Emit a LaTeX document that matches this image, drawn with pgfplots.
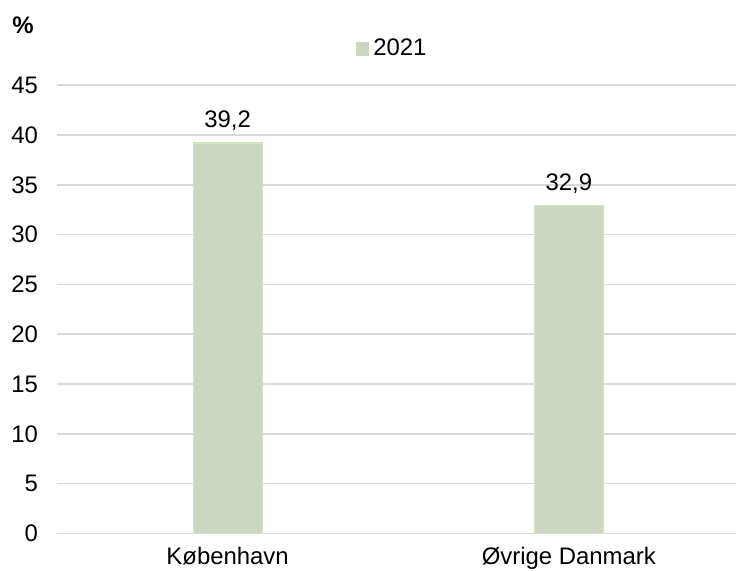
\documentclass[border=0pt]{standalone}
\usepackage{pgfplots}
\pgfplotsset{compat=1.18}
\usepackage{fontspec}
\setmainfont{Liberation Sans}
\definecolor{barfill}{HTML}{CCD7C1}
\definecolor{baredge}{HTML}{D2E5C2}
\definecolor{gridc}{HTML}{D9D9D9}
\begin{document}
\begin{tikzpicture}
\useasboundingbox (0,0) rectangle (368bp,285.5bp);
\begin{axis}[
  at={(28.5bp,18.75bp)}, anchor=south west,
  scale only axis, width=339.5bp, height=224.15bp,
  ybar, bar width=34.5bp,
  xmin=-0.5, xmax=1.49, ymin=0, ymax=45,
  xtick={0,1}, xticklabels={København,Øvrige Danmark},
  ytick={0,5,...,45},
  major tick length=0pt,
  axis x line*=bottom, axis y line*=left,
  x axis line style={draw=gridc, line width=0.8pt},
  y axis line style={draw=none},
  ymajorgrids, grid style={draw=gridc, line width=0.8pt},
  tick label style={font=\fontsize{12}{14}\selectfont, text=black},
  yticklabel style={xshift=-6bp},
  xticklabel style={yshift=-3.5bp},
  /pgf/number format/assume math mode=true,
  nodes near coords,
  nodes near coords style={font=\fontsize{12}{14}\selectfont, text=black, yshift=2.5bp,
    /pgf/number format/.cd, fixed, fixed zerofill, precision=1, use comma},
  legend style={at={(0.495,1)}, anchor=south, yshift=11bp, draw=none, fill=none,
    font=\fontsize{12}{14}\selectfont, inner sep=0pt,
    /tikz/every even column/.append style={column sep=2bp}},
  legend image code/.code={\fill[barfill] (0bp,-3.3bp) rectangle (6.2bp,3.3bp);},
]
\addplot[fill=barfill, draw=baredge, line width=0.6pt] coordinates {(0,39.2) (1,32.9)};
\addlegendentry{2021}
\end{axis}
\node[font=\bfseries\fontsize{12}{14}\selectfont] at (11.5bp,273bp) {\%};
\end{tikzpicture}
\end{document}
